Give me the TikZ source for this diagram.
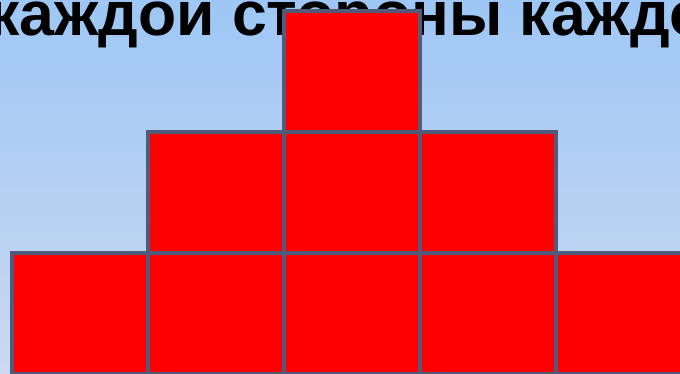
\documentclass[tikz,border=0pt]{standalone}
\usepackage{fontspec}
\setmainfont{Liberation Sans}
\usepackage{xcolor}
\usepackage{tikz}
\usetikzlibrary{positioning}

\definecolor{bgtop}{RGB}{158,199,245}
\definecolor{bgbot}{RGB}{203,216,240}
\definecolor{edgeblue}{RGB}{80,91,122}

\begin{document}
\begin{tikzpicture}[x=1pt,y=1pt]
	\tikzset{sq/.style={draw=edgeblue,fill=red,line width=4pt,minimum width=136pt,minimum height=121pt,inner sep=0pt,outer sep=0pt}}
	\useasboundingbox (0,0) rectangle (680,374);
	\clip (0,0) rectangle (680,374);
	\shade[top color=bgtop,bottom color=bgbot] (0,0) rectangle (680,374);
	
	\node (title) [anchor=base west,inner sep=0pt,font=\fontsize{62.5}{64}\selectfont\bfseries] at (-12,338) {каждои стороны каждого};
	
	\node (a1) [sq] at (79.5,60.5) {};
	\node (a2) [sq,right=0pt of a1] {};
	\node (a3) [sq,right=0pt of a2] {};
	\node (a4) [sq,right=0pt of a3] {};
	\node (a5) [sq,right=0pt of a4] {};
	
	\node (b1) [sq,above=0pt of a2] {};
	\node (b2) [sq,right=0pt of b1] {};
	\node (b3) [sq,right=0pt of b2] {};
	
	\node (c1) [sq,above=0pt of b2] {};
\end{tikzpicture}
\end{document}
